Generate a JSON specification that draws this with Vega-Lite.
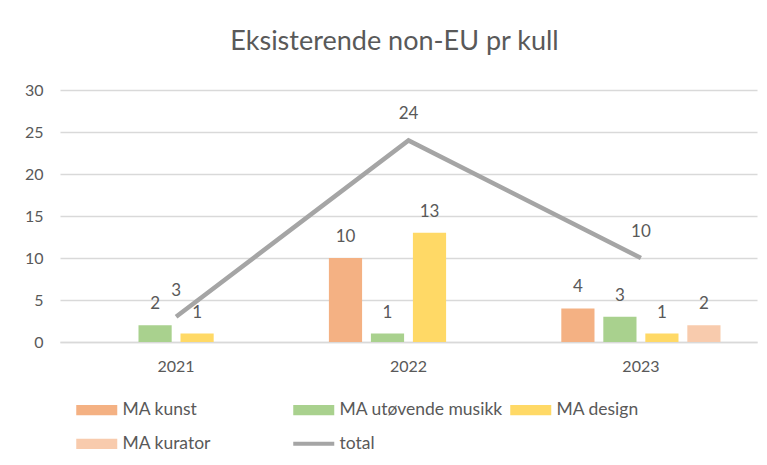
{
  "$schema": "https://vega.github.io/schema/vega-lite/v6.json",
  "width": 697,
  "height": 252,
  "autosize": "none",
  "padding": {"left": 60, "top": 90, "right": 10, "bottom": 123},
  "background": "white",
  "config": {
    "font": "Lato",
    "view": {"stroke": null},
    "axis": {"labelColor": "#595959", "labelFont": "Lato", "labelFontSize": 16, "ticks": false, "title": null}
  },
  "title": {
    "text": "Eksisterende non-EU pr kull",
    "font": "Lato",
    "fontSize": 27,
    "fontWeight": "normal",
    "color": "#595959",
    "anchor": "middle",
    "dx": -14,
    "offset": 26
  },
  "datasets": {
    "bars": [
      {"year": "2021", "series": "MA kunst", "value": 0},
      {"year": "2021", "series": "MA utøvende musikk", "value": 2},
      {"year": "2021", "series": "MA design", "value": 1},
      {"year": "2021", "series": "MA kurator", "value": 0},
      {"year": "2022", "series": "MA kunst", "value": 10},
      {"year": "2022", "series": "MA utøvende musikk", "value": 1},
      {"year": "2022", "series": "MA design", "value": 13},
      {"year": "2022", "series": "MA kurator", "value": 0},
      {"year": "2023", "series": "MA kunst", "value": 4},
      {"year": "2023", "series": "MA utøvende musikk", "value": 3},
      {"year": "2023", "series": "MA design", "value": 1},
      {"year": "2023", "series": "MA kurator", "value": 2}
    ],
    "totals": [
      {"year": "2021", "total": 3},
      {"year": "2022", "total": 24},
      {"year": "2023", "total": 10}
    ]
  },
  "layer": [
    {
      "data": {"name": "bars"},
      "mark": {"type": "bar"},
      "encoding": {
        "x": {
          "field": "year", "type": "nominal",
          "scale": {"paddingInner": 0.315, "paddingOuter": 0.157},
          "axis": {"labelAngle": 0, "labelPadding": 16, "domain": true, "domainColor": "#d9d9d9", "domainWidth": 1.5, "grid": false}
        },
        "xOffset": {
          "field": "series", "type": "nominal",
          "scale": {"domain": ["MA kunst", "MA utøvende musikk", "MA design", "MA kurator"], "paddingInner": 0.21, "paddingOuter": 0}
        },
        "y": {
          "field": "value", "type": "quantitative",
          "scale": {"domain": [0, 30]},
          "axis": {"values": [0, 5, 10, 15, 20, 25, 30], "domain": false, "grid": true, "gridColor": "#d9d9d9", "gridWidth": 1.5, "labelPadding": 17}
        },
        "color": {
          "field": "series", "type": "nominal",
          "scale": {
            "domain": ["MA kunst", "MA utøvende musikk", "MA design", "MA kurator", "total"],
            "range": ["#F4B183", "#A9D18E", "#FFD966", "#F8CBAD", "#A5A5A5"]
          },
          "legend": {
            "title": null,
            "orient": "none",
            "legendX": 28,
            "legendY": 311,
            "direction": "horizontal",
            "columns": 3,
            "gridAlign": "all",
            "columnPadding": -1,
            "rowPadding": 15,
            "labelFont": "Lato",
            "labelFontSize": 17.5,
            "labelColor": "#595959",
            "labelOffset": 17,
            "labelLimit": 300,
            "symbolSize": 1681,
            "symbolStrokeWidth": 0,
            "encode": {
              "symbols": {
                "update": {
                  "shape": {"signal": "datum.value === 'total' ? 'stroke' : 'M-1,-0.25H1V0.25H-1Z'"},
                  "stroke": {"signal": "datum.value === 'total' ? '#A5A5A5' : null"},
                  "strokeWidth": {"signal": "datum.value === 'total' ? 4 : 0"}
                }
              }
            }
          }
        }
      }
    },
    {
      "data": {"name": "bars"},
      "transform": [{"filter": "datum.value > 0"}],
      "mark": {"type": "text", "baseline": "bottom", "dy": -12, "font": "Lato", "fontSize": 17, "color": "#595959"},
      "encoding": {
        "x": {"field": "year", "type": "nominal"},
        "xOffset": {"field": "series", "type": "nominal"},
        "y": {"field": "value", "type": "quantitative"},
        "text": {"field": "value", "type": "quantitative"}
      }
    },
    {
      "data": {"name": "totals"},
      "mark": {"type": "line", "color": "#A5A5A5", "strokeWidth": 4.5},
      "encoding": {
        "x": {"field": "year", "type": "nominal"},
        "y": {"field": "total", "type": "quantitative"}
      }
    },
    {
      "data": {"name": "totals"},
      "mark": {"type": "text", "baseline": "bottom", "dy": -17, "font": "Lato", "fontSize": 17, "color": "#595959"},
      "encoding": {
        "x": {"field": "year", "type": "nominal"},
        "y": {"field": "total", "type": "quantitative"},
        "text": {"field": "total", "type": "quantitative"}
      }
    }
  ]
}
